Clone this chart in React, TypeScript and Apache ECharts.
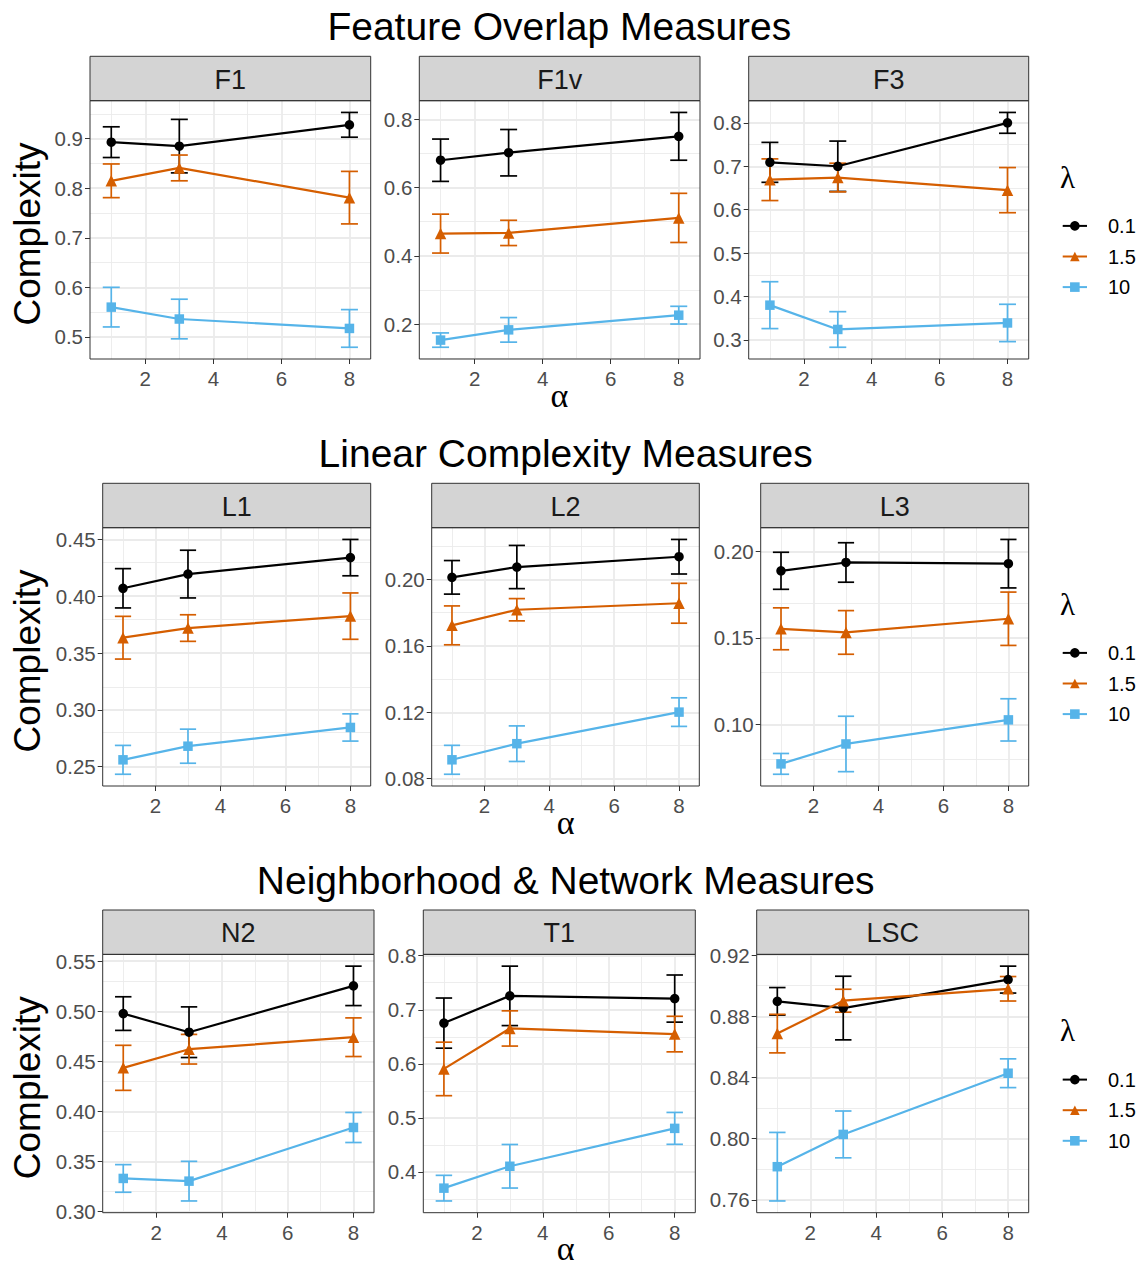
import React, { useEffect, useRef } from "react";
import * as echarts from "echarts";

// ---------- data ----------
const ALPHA = [1, 3, 8];
const LAMBDA = ["0.1", "1.5", "10"];
const LAMBDA_COLORS = ["#000000", "#D55E00", "#56B4E9"];
const LAMBDA_SYMBOLS = ["circle", "triangle", "rect"];
const LAMBDA_SYMBOL_SIZES = [9.5, 11.5, 9.5];

const X_TICKS = [2, 4, 6, 8];
const X_MINOR = [1, 3, 5, 7];

const ROW_TITLES = [
  "Feature Overlap Measures",
  "Linear Complexity Measures",
  "Neighborhood & Network Measures",
];

// rows: λ = 0.1, 1.5, 10 ; columns: α = 1, 3, 8
const F1_MEAN = [[0.893, 0.885, 0.928], [0.815, 0.841, 0.781], [0.56, 0.536, 0.517]];
const F1_ERR = [[0.031, 0.054, 0.025], [0.034, 0.026, 0.053], [0.04, 0.04, 0.038]];
const F1_TICKS = [0.5, 0.6, 0.7, 0.8, 0.9];

const F1V_MEAN = [[0.68, 0.702, 0.75], [0.465, 0.467, 0.511], [0.153, 0.183, 0.226]];
const F1V_ERR = [[0.062, 0.068, 0.07], [0.057, 0.037, 0.072], [0.021, 0.036, 0.026]];
const F1V_TICKS = [0.2, 0.4, 0.6, 0.8];

const F3_MEAN = [[0.709, 0.7, 0.8], [0.669, 0.674, 0.645], [0.38, 0.324, 0.339]];
const F3_ERR = [[0.046, 0.058, 0.024], [0.048, 0.033, 0.052], [0.054, 0.041, 0.043]];
const F3_TICKS = [0.3, 0.4, 0.5, 0.6, 0.7, 0.8];

const L1_MEAN = [[0.407, 0.4195, 0.434], [0.3635, 0.372, 0.3825], [0.256, 0.268, 0.2845]];
const L1_ERR = [[0.0173, 0.021, 0.016], [0.0188, 0.0117, 0.0204], [0.0127, 0.015, 0.012]];
const L1_TICKS = [0.25, 0.3, 0.35, 0.4, 0.45];

const L2_MEAN = [[0.2012, 0.2074, 0.2136], [0.1723, 0.1817, 0.1856], [0.0914, 0.1011, 0.1201]];
const L2_ERR = [[0.0101, 0.013, 0.0104], [0.0117, 0.0067, 0.012], [0.0087, 0.0107, 0.0086]];
const L2_TICKS = [0.08, 0.12, 0.16, 0.2];

const L3_MEAN = [[0.1888, 0.1936, 0.1929], [0.1553, 0.1532, 0.1611], [0.0773, 0.0888, 0.1027]];
const L3_ERR = [[0.0107, 0.0114, 0.014], [0.0121, 0.0126, 0.0154], [0.006, 0.016, 0.0122]];
const L3_TICKS = [0.1, 0.15, 0.2];

const N2_MEAN = [[0.4977, 0.4791, 0.5254], [0.4435, 0.4621, 0.4741], [0.333, 0.3303, 0.3839]];
const N2_ERR = [[0.0168, 0.0253, 0.0197], [0.0225, 0.0148, 0.0193], [0.0138, 0.0198, 0.015]];
const N2_TICKS = [0.3, 0.35, 0.4, 0.45, 0.5, 0.55];

const T1_MEAN = [[0.6753, 0.7257, 0.7207], [0.5905, 0.6654, 0.655], [0.3699, 0.4104, 0.4805]];
const T1_ERR = [[0.0464, 0.055, 0.0436], [0.0495, 0.0326, 0.0329], [0.0237, 0.0403, 0.0295]];
const T1_TICKS = [0.4, 0.5, 0.6, 0.7, 0.8];

const LSC_MEAN = [[0.8898, 0.8854, 0.904], [0.8687, 0.8902, 0.898], [0.7817, 0.8028, 0.8428]];
const LSC_ERR = [[0.009, 0.0208, 0.0088], [0.0126, 0.0075, 0.008], [0.0224, 0.0153, 0.0094]];
const LSC_TICKS = [0.76, 0.8, 0.84, 0.88, 0.92];

type Panel = { name: string; mean: number[][]; err: number[][]; ticks: number[]; digits: number };

const PANELS: Panel[][] = [
  [
    { name: "F1", mean: F1_MEAN, err: F1_ERR, ticks: F1_TICKS, digits: 1 },
    { name: "F1v", mean: F1V_MEAN, err: F1V_ERR, ticks: F1V_TICKS, digits: 1 },
    { name: "F3", mean: F3_MEAN, err: F3_ERR, ticks: F3_TICKS, digits: 1 },
  ],
  [
    { name: "L1", mean: L1_MEAN, err: L1_ERR, ticks: L1_TICKS, digits: 2 },
    { name: "L2", mean: L2_MEAN, err: L2_ERR, ticks: L2_TICKS, digits: 2 },
    { name: "L3", mean: L3_MEAN, err: L3_ERR, ticks: L3_TICKS, digits: 2 },
  ],
  [
    { name: "N2", mean: N2_MEAN, err: N2_ERR, ticks: N2_TICKS, digits: 2 },
    { name: "T1", mean: T1_MEAN, err: T1_ERR, ticks: T1_TICKS, digits: 1 },
    { name: "LSC", mean: LSC_MEAN, err: LSC_ERR, ticks: LSC_TICKS, digits: 2 },
  ],
];

// ---------- layout ----------
const W = 1141;
const H = 1268;
const SANS = "'Liberation Sans', Arial, Helvetica, sans-serif";
const SERIF = "'Liberation Serif', 'DejaVu Serif', serif";

const ROW_OFFSET = [0, 427, 853.7];
const STRIP_TOP = 56.3;
const PLOT_TOP = 100.7;
const PLOT_BOTTOM = 359;
const PANEL_X = [
  [[90, 370.7], [419.3, 700], [748.7, 1028.7]],
  [[102.7, 370.7], [431.7, 699.3], [760.7, 1028.7]],
  [[102.7, 374], [423.3, 695.3], [756.7, 1028.7]],
];
const CAP_HALF = 0.25; // error-bar cap half width, in α units
const EXPAND = 0.05;

const GRID_COLOR = "#EBEBEB";
const FRAME_COLOR = "#333333";
const TICK_FONT = 20.5;

function buildOption() {
  const grid: any[] = [];
  const xAxis: any[] = [];
  const yAxis: any[] = [];
  const series: any[] = [];
  const graphic: any[] = [];
  const legend: any[] = [];

  const xLo = Math.min(...ALPHA) - CAP_HALF;
  const xHi = Math.max(...ALPHA) + CAP_HALF;
  const xMin = xLo - (xHi - xLo) * EXPAND;
  const xMax = xHi + (xHi - xLo) * EXPAND;

  PANELS.forEach((row, r) => {
    const dy = ROW_OFFSET[r];
    const top = PLOT_TOP + dy;
    const bottom = PLOT_BOTTOM + dy;
    const rowLeft = PANEL_X[r][0][0];
    const rowRight = PANEL_X[r][2][1];
    const cx = (rowLeft + rowRight) / 2;

    row.forEach((p, c) => {
      const idx = grid.length;
      const [x0, x1] = PANEL_X[r][c];

      let lo = Infinity;
      let hi = -Infinity;
      p.mean.forEach((vals, k) =>
        vals.forEach((m, i) => {
          lo = Math.min(lo, m - p.err[k][i]);
          hi = Math.max(hi, m + p.err[k][i]);
        })
      );
      const yMin = lo - (hi - lo) * EXPAND;
      const yMax = hi + (hi - lo) * EXPAND;
      const step = p.ticks[1] - p.ticks[0];
      const yMinor = [p.ticks[0] - step / 2, ...p.ticks.map((t) => t + step / 2)].filter(
        (v) => v > yMin && v < yMax
      );

      grid.push({
        left: x0,
        top,
        width: x1 - x0,
        height: bottom - top,
        show: false,
        containLabel: false,
        outerBoundsMode: "none",
      });

      xAxis.push({
        type: "value",
        gridIndex: idx,
        min: xMin,
        max: xMax,
        axisLine: { show: false },
        splitLine: { show: false },
        axisTick: {
          show: true,
          customValues: X_TICKS,
          length: 5,
          lineStyle: { color: FRAME_COLOR, width: 1 },
        },
        axisLabel: {
          customValues: X_TICKS,
          color: "#4D4D4D",
          fontSize: TICK_FONT,
          fontFamily: SANS,
          margin: 9,
          formatter: (v: number) => String(Math.round(v)),
        },
      });

      yAxis.push({
        type: "value",
        gridIndex: idx,
        min: yMin,
        max: yMax,
        axisLine: { show: false },
        splitLine: { show: false },
        axisTick: {
          show: true,
          customValues: p.ticks,
          length: 5,
          lineStyle: { color: FRAME_COLOR, width: 1 },
        },
        axisLabel: {
          customValues: p.ticks,
          color: "#4D4D4D",
          fontSize: TICK_FONT,
          fontFamily: SANS,
          margin: 7,
          formatter: (v: number) => v.toFixed(p.digits),
        },
      });

      // panel grid lines (major + minor)
      const major = { color: GRID_COLOR, width: 1.8, type: "solid" };
      const minor = { color: GRID_COLOR, width: 0.9, type: "solid" };
      series.push({
        type: "line",
        name: `${p.name} grid`,
        xAxisIndex: idx,
        yAxisIndex: idx,
        data: [],
        silent: true,
        markLine: {
          z: 1,
          silent: true,
          symbol: ["none", "none"],
          label: { show: false },
          emphasis: { disabled: true },
          animation: false,
          data: [
            ...yMinor.map((v) => ({ yAxis: v, lineStyle: minor })),
            ...X_MINOR.map((v) => ({ xAxis: v, lineStyle: minor })),
            ...p.ticks.map((v) => ({ yAxis: v, lineStyle: major })),
            ...X_TICKS.map((v) => ({ xAxis: v, lineStyle: major })),
          ],
        },
      });

      LAMBDA.forEach((lam, k) => {
        const color = LAMBDA_COLORS[k];
        series.push({
          type: "custom",
          name: `${lam} error`,
          xAxisIndex: idx,
          yAxisIndex: idx,
          z: 3,
          silent: true,
          encode: { x: 0, y: [1, 2] },
          data: ALPHA.map((a, i) => [a, p.mean[k][i] - p.err[k][i], p.mean[k][i] + p.err[k][i]]),
          renderItem: (_params: any, api: any) => {
            const x = api.value(0);
            const a = api.coord([x, api.value(2)]);
            const b = api.coord([x, api.value(1)]);
            const hw = api.size([CAP_HALF, 0])[0];
            const style = { stroke: color, lineWidth: 1.7, fill: "none" };
            return {
              type: "group",
              children: [
                { type: "line", shape: { x1: a[0], y1: a[1], x2: b[0], y2: b[1] }, style },
                { type: "line", shape: { x1: a[0] - hw, y1: a[1], x2: a[0] + hw, y2: a[1] }, style },
                { type: "line", shape: { x1: b[0] - hw, y1: b[1], x2: b[0] + hw, y2: b[1] }, style },
              ],
            };
          },
        });
        series.push({
          type: "line",
          name: lam,
          xAxisIndex: idx,
          yAxisIndex: idx,
          z: 4,
          data: ALPHA.map((a, i) => [a, p.mean[k][i]]),
          symbol: LAMBDA_SYMBOLS[k],
          symbolSize: LAMBDA_SYMBOL_SIZES[k],
          showSymbol: true,
          lineStyle: { color, width: 2.2 },
          itemStyle: { color },
          emphasis: { disabled: true },
        });
      });

      // facet strip
      graphic.push({
        type: "rect",
        z: 50,
        shape: { x: x0, y: STRIP_TOP + dy, width: x1 - x0, height: PLOT_TOP - STRIP_TOP },
        style: { fill: "#D4D4D4", stroke: FRAME_COLOR, lineWidth: 1 },
        silent: true,
      });
      graphic.push({
        type: "text",
        z: 51,
        x: (x0 + x1) / 2,
        y: (STRIP_TOP + PLOT_TOP) / 2 + dy + 1,
        silent: true,
        style: {
          text: p.name,
          fill: "#1A1A1A",
          fontSize: 27,
          fontFamily: SANS,
          align: "center",
          verticalAlign: "middle",
          textAlign: "center",
          textVerticalAlign: "middle",
        },
      });
      // panel frame
      graphic.push({
        type: "rect",
        z: 50,
        shape: { x: x0, y: top, width: x1 - x0, height: bottom - top },
        style: { fill: "none", stroke: FRAME_COLOR, lineWidth: 1 },
        silent: true,
      });
    });

    // row title
    graphic.push({
      type: "text",
      z: 51,
      x: cx,
      y: 26.7 + dy,
      silent: true,
      style: {
        text: ROW_TITLES[r],
        fill: "#000000",
        fontSize: 39,
        fontFamily: SANS,
        align: "center",
        verticalAlign: "middle",
        textAlign: "center",
        textVerticalAlign: "middle",
      },
    });
    // y axis title
    graphic.push({
      type: "text",
      z: 51,
      x: 27,
      y: 234 + dy,
      rotation: Math.PI / 2,
      silent: true,
      style: {
        text: "Complexity",
        fill: "#000000",
        fontSize: 37,
        fontFamily: SANS,
        align: "center",
        verticalAlign: "middle",
        textAlign: "center",
        textVerticalAlign: "middle",
      },
    });
    // x axis title
    graphic.push({
      type: "text",
      z: 51,
      x: cx,
      y: 395 + dy,
      silent: true,
      style: {
        text: "α",
        fill: "#000000",
        fontSize: 34,
        fontFamily: SERIF,
        align: "center",
        verticalAlign: "middle",
        textAlign: "center",
        textVerticalAlign: "middle",
      },
    });
    // legend title
    graphic.push({
      type: "text",
      z: 51,
      x: 1060,
      y: 177 + dy,
      silent: true,
      style: {
        text: "λ",
        fill: "#000000",
        fontSize: 31,
        fontFamily: SERIF,
        align: "left",
        verticalAlign: "middle",
        textAlign: "left",
        textVerticalAlign: "middle",
      },
    });

    legend.push({
      data: LAMBDA,
      orient: "vertical",
      left: 1061.7,
      top: 215.9 + dy,
      padding: 0,
      itemWidth: 24.3,
      itemHeight: 12,
      itemGap: 10.6,
      selectedMode: false,
      textStyle: { fontSize: 20, color: "#000000", fontFamily: SANS, padding: [0, 0, 0, 16] },
    });
  });

  return {
    animation: false,
    backgroundColor: "#FFFFFF",
    textStyle: { fontFamily: SANS },
    grid,
    xAxis,
    yAxis,
    legend,
    series,
    graphic: { elements: graphic },
  };
}

export default function App() {
  const ref = useRef<HTMLDivElement>(null);
  useEffect(() => {
    document.body.style.margin = "0";
    const chart = echarts.init(ref.current as HTMLDivElement, null, {
      renderer: "svg",
      width: W,
      height: H,
    });
    chart.setOption(buildOption() as any);
    return () => chart.dispose();
  }, []);
  return <div ref={ref} style={{ width: W, height: H }} />;
}
